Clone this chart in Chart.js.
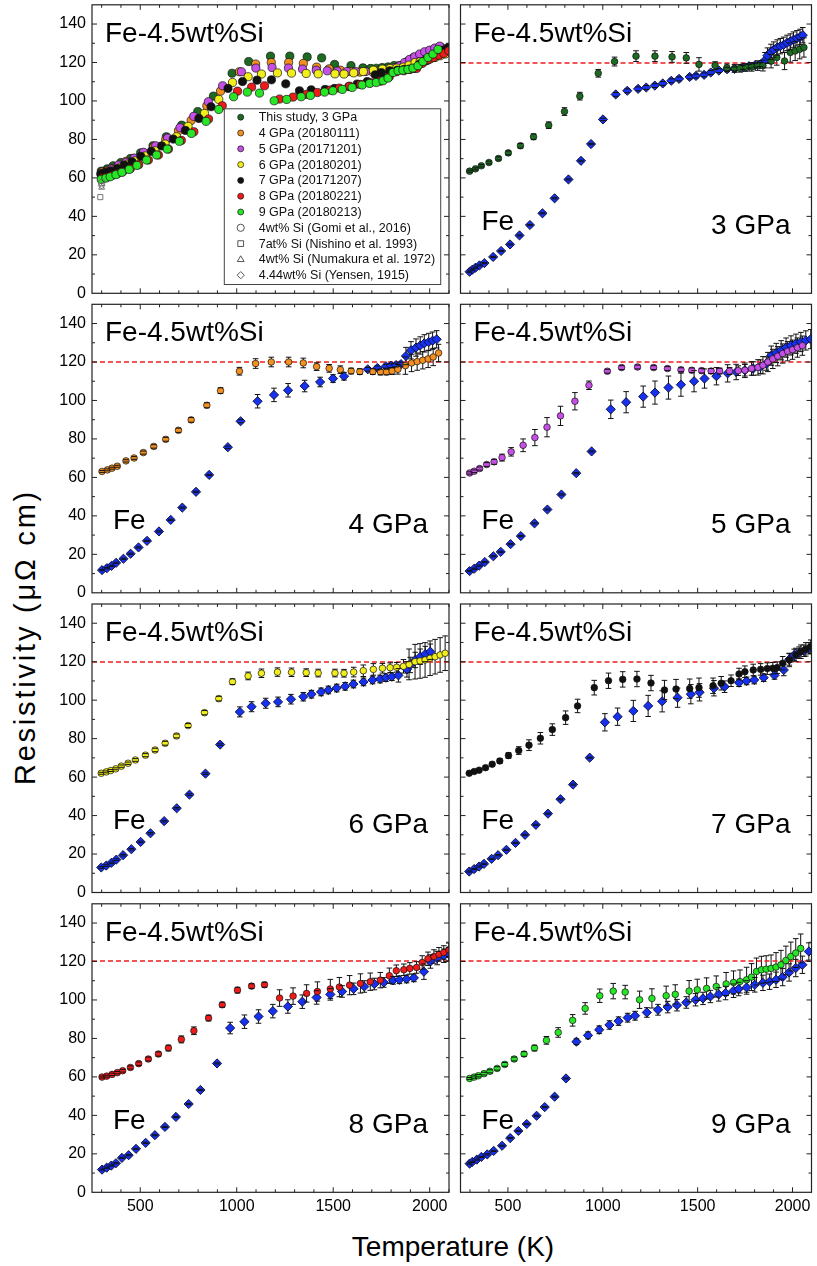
<!DOCTYPE html>
<html lang="en">
<head>
<meta charset="UTF-8">
<title>Resistivity of Fe-4.5wt%Si</title>
<script src="https://cdn.jsdelivr.net/npm/chart.js"></script>
<style>
  body { margin: 0; background: #fff; }
  #fig { position: relative; width: 817px; height: 1266px; font-family: Arial, "Liberation Sans", sans-serif; overflow: hidden; }
  #fig canvas { position: absolute; }
  .axis-title { position: absolute; font-size: 28px; line-height: 28px; height: 28px; width: 400px; text-align: center; color: #000; white-space: nowrap; }
  #ytitle { left: -174.7px; top: 622.5px; transform: rotate(-90deg); font-size: 29px; letter-spacing: 2.8px; }
  #xtitle { left: 253px; top: 1233px; }
</style>
</head>
<body>
<div id="fig">
  <div class="axis-title" id="ytitle">Resistivity (μΩ cm)</div>
  <div class="axis-title" id="xtitle">Temperature (K)</div>
</div>
<script>
// axes
const xMin = 250, xMax = 2100;
const yMin = 0, yMax = 150;
const xTicks = [500, 1000, 1500, 2000];
const yTicks = [0, 20, 40, 60, 80, 100, 120, 140];
const refLevel = 120;

// Fe-4.5wt%Si, this study (T in K, rho in uOhm cm, err = half error bar)
const si3T = [298,329,360,400,450,502,566,635,715,798,879,976,1062,1175,1275,1365,1440,1507,1592,1654,1694,1723,1754,1785,1816,1844,1887,1917,1958,1988,2014,2038,2060];
const si3R = [63.5,64.7,66.3,68.0,70.1,73.0,76.7,81.4,87.4,94.5,102.5,114.4,120.5,123.3,123.3,122.9,122.4,119.0,118.4,117.2,116.9,117.0,117.4,117.7,118.4,118.4,120.7,122.6,120.8,125.2,126.0,126.9,127.8];
const si3E = [0.5,0.5,0.6,0.7,0.8,1.0,1.2,1.5,1.7,2.0,2.0,2.0,2.3,2.8,2.8,2.8,2.8,3.5,2.0,2.0,2.0,2.0,2.0,2.2,2.5,2.8,3.5,4.0,4.5,5.0,5.0,5.0,5.0];

const si4T = [302,330,354,381,426,468,516,570,632,698,764,845,916,1014,1098,1179,1269,1345,1414,1479,1537,1593,1638,1705,1745,1776,1805,1835,1874,1906,1935,1964,1992,2018,2046];
const si4R = [63.1,63.9,64.8,65.8,68.6,70.1,72.9,76.1,79.8,84.5,89.9,97.5,105.1,115.2,119.2,120.0,120.0,119.5,117.6,116.7,116.0,115.3,115.0,115.0,114.8,114.8,115.3,116.2,118.1,119.5,120.2,120.9,121.6,122.6,124.7];
const si4E = [0.5,0.5,0.5,0.5,0.6,0.7,0.8,0.9,1.0,1.1,1.2,1.3,1.5,2.0,2.5,2.5,2.5,2.5,2.0,2.0,2.0,1.5,1.5,1.5,1.5,1.5,1.8,2.5,4.5,4.5,4.5,4.5,4.5,4.5,4.5];

const si5T = [298,322,351,388,427,469,517,580,642,706,777,853,927,1024,1099,1183,1268,1341,1412,1469,1521,1571,1616,1668,1714,1749,1784,1818,1844,1870,1896,1922,1948,1974,2000,2026,2052];
const si5R = [62.3,63.2,64.6,66.7,68.1,70.3,73.3,76.7,80.7,86.1,92.0,99.6,107.9,115.2,117.1,117.4,117.1,116.6,116.0,115.7,115.5,115.3,115.3,115.3,115.5,115.7,116.6,117.2,118.3,120.0,121.6,123.0,124.4,125.6,126.4,127.5,128.5];
const si5E = [0.6,0.7,0.8,1.0,1.3,1.8,2.2,3.3,4.2,5.0,5.0,4.5,2.2,1.0,1.0,1.0,1.0,1.0,1.0,1.2,1.2,1.3,1.5,1.8,2.5,3.0,3.5,4.0,4.5,5.0,5.0,5.0,5.0,5.0,5.0,5.0,5.0];

const si6T = [298,324,347,373,402,437,475,527,577,629,688,748,833,907,978,1059,1128,1211,1284,1360,1422,1509,1556,1606,1656,1708,1755,1795,1829,1864,1893,1924,1950,1976,2002,2028,2054,2080];
const si6R = [62.0,62.7,63.4,64.3,65.7,67.2,68.9,71.4,74.1,77.6,81.4,86.8,93.5,100.8,109.6,112.6,114.0,114.6,114.5,114.3,114.1,114.1,114.0,114.6,115.3,116.0,116.6,116.9,117.1,117.6,118.6,120.0,120.4,120.9,121.8,122.6,123.5,124.4];
const si6E = [0.5,0.5,0.5,0.5,0.6,0.6,0.7,0.8,0.9,1.0,1.0,1.0,1.1,1.2,1.5,2.0,2.2,2.2,2.2,2.0,2.0,2.0,2.0,2.5,3.0,3.0,2.5,2.5,2.5,3.5,8.0,9.0,9.0,9.0,9.0,9.0,9.0,9.0];

const si7T = [296,322,348,382,417,457,503,557,611,671,734,804,867,955,1030,1105,1180,1254,1325,1386,1458,1507,1581,1624,1676,1718,1749,1793,1832,1867,1896,1919,1948,1983,2018,2044,2070,2096];
const si7R = [62.0,62.9,63.6,64.9,66.7,68.4,71.2,73.8,76.6,80.2,84.7,90.9,97.0,106.5,110.1,110.8,111.0,108.9,105.3,105.8,106.0,106.5,107.5,108.8,110.1,113.6,114.8,115.7,116.0,116.4,116.6,116.9,119.2,120.9,123.5,125.2,126.4,127.8];
const si7E = [0.5,0.6,0.7,0.8,1.0,1.2,1.5,2.0,2.8,3.0,3.0,3.5,3.5,3.8,4.0,4.0,4.0,4.0,5.0,5.0,5.0,5.0,4.0,3.5,3.0,3.0,3.0,3.0,3.0,3.0,3.0,3.0,3.5,3.5,3.5,3.5,3.5,3.5];

const si8T = [302,326,354,381,409,449,492,542,594,646,713,778,854,925,1004,1077,1144,1222,1292,1362,1418,1485,1532,1585,1641,1692,1744,1791,1827,1866,1897,1932,1961,1991,2022,2048,2073,2099];
const si8R = [59.9,60.4,61.3,62.2,63.2,64.9,66.9,69.3,71.9,75.0,79.5,84.0,90.6,97.5,105.1,107.2,107.9,101.0,102.0,103.4,104.4,105.7,106.7,107.7,108.6,109.5,110.3,112.6,115.2,115.7,116.4,116.9,119.5,121.4,122.6,123.8,124.7,126.1];
const si8E = [0.5,0.5,0.6,0.6,0.7,0.8,0.9,1.0,1.1,1.5,1.8,2.0,1.5,1.3,1.5,1.2,1.3,4.3,4.3,4.5,5.0,5.0,5.0,5.0,5.0,4.5,4.0,4.0,3.0,3.0,3.0,3.0,3.5,3.5,3.5,3.5,3.5,3.5];

const si9T = [298,322,344,374,405,443,483,533,585,640,703,765,841,907,984,1055,1118,1194,1259,1334,1382,1455,1498,1547,1598,1650,1689,1723,1758,1784,1810,1836,1861,1887,1913,1939,1965,1991,2017,2043];
const si9R = [59.2,59.9,60.6,61.7,62.9,64.4,66.5,69.3,71.9,75.0,79.0,83.1,89.4,95.6,102.2,104.6,104.1,100.1,100.8,102.2,102.9,104.6,105.3,106.0,107.0,108.3,109.1,109.6,110.5,111.9,114.8,115.7,116.0,116.4,117.1,118.3,120.5,122.6,124.4,126.8];
const si9E = [0.5,0.6,0.6,0.7,0.8,0.9,1.0,1.0,1.2,1.5,2.0,2.5,3.0,3.0,3.5,4.0,3.5,4.5,5.0,5.0,5.0,5.5,5.5,5.5,5.5,6.0,6.0,6.0,6.5,7.0,7.0,7.0,7.0,7.0,7.5,7.5,7.5,7.5,7.5,7.5];

// pure Fe at the same pressures
const fe3T = [298,313,329,350,376,422,464,511,561,616,682,746,819,885,938,1001,1068,1129,1186,1229,1274,1316,1361,1402,1458,1491,1534,1569,1612,1655,1695,1737,1771,1803,1829,1855,1868,1886,1901,1919,1936,1953,1971,1988,2005,2023,2040,2054];
const fe3R = [11.2,12.3,13.3,14.5,15.7,18.9,22.0,25.4,30.1,35.5,41.6,49.4,59.2,68.9,77.6,90.4,103.4,105.3,106.3,107.0,108.0,109.1,110.5,111.5,112.5,113.0,113.6,114.8,115.8,116.5,116.7,117.4,118.1,118.6,118.9,121.2,123.6,125.5,126.7,127.8,128.5,129.2,130.2,130.9,131.9,132.6,133.3,134.2];
const fe3E = [0.3,0.3,0.3,0.3,0.3,0.3,0.3,0.3,0.3,0.3,0.3,0.3,0.3,0.3,0.3,0.6,1.0,1.0,1.0,1.0,1.0,1.0,1.0,1.0,1.0,1.0,1.0,1.0,1.0,1.0,1.0,1.0,1.0,1.0,1.0,4.0,4.0,4.0,4.0,4.0,4.0,4.0,4.0,4.0,4.0,4.0,4.0,4.0];

const fe4T = [302,327,351,375,413,450,491,535,597,658,718,789,857,954,1020,1108,1193,1266,1352,1432,1499,1556,1679,1729,1773,1799,1825,1851,1877,1903,1929,1951,1972,1995,2015,2036];
const fe4R = [11.8,12.8,14.0,15.6,17.7,20.3,23.6,27.0,31.9,37.9,44.3,52.5,61.3,75.7,89.2,99.6,102.9,105.3,107.5,109.6,111.4,112.6,116.2,116.9,117.8,118.1,118.4,118.9,123.1,126.1,127.5,128.6,129.7,130.4,131.1,131.8];
const fe4E = [0.3,0.3,0.3,0.3,0.3,0.3,0.3,0.3,0.3,0.3,0.3,0.3,0.3,0.6,0.8,3.5,3.5,3.5,3.0,2.5,2.0,2.0,1.0,1.0,1.0,1.0,1.0,1.0,4.5,4.5,4.5,4.5,4.5,4.5,4.5,4.5];

const fe5T = [298,322,348,378,423,462,514,568,640,708,782,860,941,1042,1123,1213,1275,1346,1412,1481,1536,1599,1658,1703,1749,1793,1831,1862,1888,1914,1940,1966,1992,2018,2044,2070,2096];
const fe5R = [11.3,12.5,14.1,16.0,19.0,21.3,25.3,29.5,36.1,43.3,51.1,62.2,73.5,95.4,99.1,102.0,104.1,106.7,108.2,110.0,111.4,112.6,114.1,114.8,115.7,116.6,117.6,119.2,123.3,124.7,126.1,127.5,128.6,129.5,130.4,131.2,131.9];
const fe5E = [0.3,0.3,0.3,0.3,0.3,0.3,0.3,0.3,0.3,0.3,0.3,0.3,0.3,4.8,5.5,5.5,6.0,6.0,6.0,5.5,5.0,4.5,4.5,4.0,3.8,3.5,3.5,3.5,5.0,5.0,5.0,5.0,5.0,5.0,5.0,5.0,5.0];

const fe6T = [298,324,350,376,411,454,502,553,624,689,755,838,914,1016,1077,1150,1214,1281,1345,1387,1437,1475,1518,1562,1605,1657,1704,1743,1773,1804,1838,1882,1899,1925,1951,1977,2003];
const fe6R = [13.0,14.0,15.4,17.1,19.4,22.5,26.3,30.8,37.1,43.8,50.9,61.8,76.9,93.9,96.6,98.4,99.1,100.5,101.8,103.1,104.3,105.3,106.3,107.2,108.4,109.5,110.5,111.0,111.7,112.2,112.9,116.0,118.3,120.9,122.6,124.0,125.2];
const fe6E = [0.4,0.4,0.4,0.4,0.4,0.4,0.4,0.4,0.4,0.4,0.4,0.4,0.4,2.6,2.6,2.6,2.5,2.5,2.2,2.0,2.0,2.0,2.0,2.0,2.0,2.0,2.0,2.0,2.0,2.0,3.5,4.0,4.0,4.0,4.0,4.0,4.0];

const fe7T = [296,322,348,374,414,448,492,540,590,647,711,777,843,931,1011,1078,1161,1239,1313,1394,1464,1510,1586,1642,1718,1758,1798,1848,1905,1954,1983,2009,2035,2061,2087];
const fe7R = [10.9,12.2,13.5,14.9,17.5,19.4,22.2,25.8,30.0,35.2,41.0,48.5,56.1,70.1,88.5,91.4,94.4,97.0,99.4,101.3,103.1,104.1,106.2,107.0,109.1,110.0,110.5,111.7,112.9,115.7,121.2,123.5,124.7,125.7,127.0];
const fe7E = [0.3,0.3,0.3,0.3,0.3,0.3,0.3,0.3,0.3,0.3,0.3,0.3,0.3,0.3,4.5,4.5,5.5,5.5,5.5,5.0,5.0,4.5,4.0,3.0,2.0,2.0,2.0,2.0,2.0,3.0,3.0,3.0,3.0,3.0,3.0];

const fe8T = [302,326,350,374,405,440,478,528,576,628,685,751,812,898,966,1040,1113,1187,1265,1340,1414,1485,1546,1606,1661,1713,1762,1810,1843,1880,1918,1970,2004,2039,2073,2099];
const fe8R = [11.8,12.8,13.9,15.1,17.9,19.3,22.6,25.7,29.7,34.0,39.2,45.9,53.2,67.0,85.4,88.7,91.4,94.2,96.6,99.1,101.3,102.9,104.4,105.8,107.0,108.3,109.1,110.2,110.5,110.9,111.5,114.7,120.0,121.8,123.0,123.8];
const fe8E = [0.3,0.3,0.3,0.3,0.3,0.3,0.3,0.3,0.3,0.3,0.3,0.3,0.3,0.3,3.0,3.5,3.5,3.5,3.5,3.5,3.5,3.0,3.0,3.0,3.0,3.0,2.5,2.0,2.0,2.0,2.0,4.0,3.5,3.5,3.5,3.5];

const fe9T = [298,312,336,360,391,425,469,512,555,599,651,694,746,806,861,922,981,1035,1083,1131,1170,1232,1291,1342,1391,1440,1489,1528,1567,1611,1647,1689,1716,1758,1801,1844,1879,1913,1948,1982,2017,2052,2086];
const fe9R = [14.9,15.8,17.0,18.4,19.7,21.5,24.2,28.2,31.9,35.5,39.8,44.3,49.7,59.2,78.3,81.6,84.5,87.0,89.0,90.8,91.8,93.5,94.9,96.3,97.3,98.7,100.1,100.8,101.8,102.9,103.6,104.8,105.7,106.5,107.9,108.9,109.5,110.5,111.9,114.3,116.6,118.3,125.2];
const fe9E = [0.3,0.3,0.3,0.3,0.3,0.3,0.3,0.3,0.3,0.3,0.3,0.3,0.3,0.3,1.5,1.8,2.0,2.2,2.2,2.3,2.3,2.5,2.8,3.0,3.0,3.0,3.2,3.2,3.2,3.5,3.5,3.5,3.5,3.5,3.8,4.0,4.0,4.0,4.5,4.5,4.5,4.5,4.5];

// literature values near room temperature
const litT = [300, 293, 300, 300];
const litR = [57.5, 50.0, 55.0, 56.0];

const pressures = ['3 GPa', '4 GPa', '5 GPa', '6 GPa', '7 GPa', '8 GPa', '9 GPa'];
const siLegend = ['This study, 3 GPa', '4 GPa (20180111)', '5 GPa (20171201)', '6 GPa (20180201)', '7 GPa (20171207)', '8 GPa (20180221)', '9 GPa (20180213)'];
const litLegend = ['4wt% Si (Gomi et al., 2016)', '7at% Si (Nishino et al. 1993)', '4wt% Si (Numakura et al. 1972)', '4.44wt% Si (Yensen, 1915)'];
const siColors = ['#1d6b22', '#f39020', '#c64fe6', '#f2ee1c', '#111111', '#ee1b1b', '#27e527'];
const litStyles = ['circle', 'rect', 'triangle', 'rectRot'];
const feColor = '#1632ee';

const siT = [si3T, si4T, si5T, si6T, si7T, si8T, si9T];
const siR = [si3R, si4R, si5R, si6R, si7R, si8R, si9R];
const siE = [si3E, si4E, si5E, si6E, si7E, si8E, si9E];
const feT = [fe3T, fe4T, fe5T, fe6T, fe7T, fe8T, fe9T];
const feR = [fe3R, fe4R, fe5R, fe6R, fe7R, fe8R, fe9R];
const feE = [fe3E, fe4E, fe5E, fe6E, fe7E, fe8E, fe9E];

const FONT = 'Arial, "Liberation Sans", sans-serif';

// frame geometry (page pixels)
const colX = [[92, 449], [459.5, 816]];
const rowBottom = [293.3, 592.8, 892.5, 1192.3];
const plotH = 288.5;

const pts = (xs, ys) => xs.map((x, i) => ({ x: x, y: ys[i] }));

function marker(ctx, style, x, y, r) {
  ctx.beginPath();
  if (style === 'circle') ctx.arc(x, y, r, 0, Math.PI * 2);
  else if (style === 'rect') { const s = r * 0.8; ctx.rect(x - s, y - s, 2 * s, 2 * s); }
  else if (style === 'triangle') { ctx.moveTo(x, y - r); ctx.lineTo(x + r * 0.95, y + r * 0.6); ctx.lineTo(x - r * 0.95, y + r * 0.6); ctx.closePath(); }
  else { ctx.moveTo(x, y - r); ctx.lineTo(x + r, y); ctx.lineTo(x, y + r); ctx.lineTo(x - r, y); ctx.closePath(); }
}

function drawErr(chart, part) {
  const ctx = chart.ctx, ys = chart.scales.y, a = chart.chartArea;
  ctx.save();
  ctx.beginPath();
  ctx.rect(a.left, a.top, a.right - a.left, a.bottom - a.top);
  ctx.clip();
  ctx.strokeStyle = '#111';
  ctx.lineWidth = 1;
  chart.data.datasets.forEach((ds, i) => {
    if (!ds.err) return;
    chart.getDatasetMeta(i).data.forEach((pt, j) => {
      const e = ds.err[j] || 0;
      if (!e) return;
      const v = ds.data[j].y;
      const y0 = ys.getPixelForValue(v - e), y1 = ys.getPixelForValue(v + e);
      ctx.beginPath();
      if (part === 'stem') {
        ctx.moveTo(pt.x, y0); ctx.lineTo(pt.x, y1);
      } else {
        ctx.moveTo(pt.x - 2.8, y0); ctx.lineTo(pt.x + 2.8, y0);
        ctx.moveTo(pt.x - 2.8, y1); ctx.lineTo(pt.x + 2.8, y1);
      }
      ctx.stroke();
    });
  });
  ctx.restore();
}

const errorBars = {
  id: 'errorBars',
  beforeDatasetsDraw(chart) { drawErr(chart, 'stem'); },
  afterDatasetsDraw(chart) { drawErr(chart, 'caps'); }
};

const deco = {
  id: 'deco',
  beforeDatasetsDraw(chart, args, o) {
    if (!o.dash) return;
    const ctx = chart.ctx, a = chart.chartArea;
    const y = Math.round(chart.scales.y.getPixelForValue(refLevel));
    ctx.save();
    ctx.strokeStyle = '#f01e1e';
    ctx.lineWidth = 1.5;
    ctx.setLineDash([5, 3]);
    ctx.beginPath(); ctx.moveTo(a.left, y); ctx.lineTo(a.right, y); ctx.stroke();
    ctx.restore();
  },
  afterDraw(chart, args, o) {
    const ctx = chart.ctx, a = chart.chartArea, xs = chart.scales.x, ys = chart.scales.y;
    ctx.save();
    ctx.strokeStyle = '#222';
    ctx.lineWidth = 1.2;
    ctx.strokeRect(a.left, a.top, a.right - a.left, a.bottom - a.top);
    ctx.lineWidth = 1;
    ctx.beginPath();
    for (let v = 300; v <= xMax; v += 100) {
      const len = v % 500 === 0 ? 5 : 3, px = xs.getPixelForValue(v);
      ctx.moveTo(px, a.bottom); ctx.lineTo(px, a.bottom - len);
      ctx.moveTo(px, a.top); ctx.lineTo(px, a.top + len);
    }
    for (let v = 10; v < yMax; v += 10) {
      const len = v % 20 === 0 ? 5 : 3, py = ys.getPixelForValue(v);
      ctx.moveTo(a.left, py); ctx.lineTo(a.left + len, py);
      ctx.moveTo(a.right, py); ctx.lineTo(a.right - len, py);
    }
    ctx.stroke();

    ctx.fillStyle = '#000';
    ctx.font = '28px ' + FONT;
    ctx.textBaseline = 'alphabetic';
    ctx.textAlign = 'left';
    ctx.fillText('Fe-4.5wt%Si', a.left + 13, a.top + 37);
    if (o.gpa) {
      ctx.fillText('Fe', a.left + 21, a.top + 225);
      ctx.textAlign = 'right';
      ctx.fillText(o.gpa, a.right - 21, a.top + 229);
    }

    if (o.legend) {
      const bx = a.left + 132.3, by = a.top + 104, bw = 216.4, bh = 175.7;
      ctx.fillStyle = '#fff';
      ctx.fillRect(bx, by, bw, bh);
      ctx.strokeStyle = '#444';
      ctx.lineWidth = 1;
      ctx.strokeRect(bx, by, bw, bh);
      ctx.font = '12.5px ' + FONT;
      ctx.textAlign = 'left';
      ctx.textBaseline = 'middle';
      const names = siLegend.concat(litLegend);
      names.forEach((name, k) => {
        const cy = by + 8.4 + k * 15.8, mx = bx + 16.4;
        if (k < siLegend.length) {
          ctx.fillStyle = siColors[k];
          ctx.strokeStyle = '#111';
          ctx.lineWidth = 0.7;
          marker(ctx, 'circle', mx, cy, 3);
          ctx.fill(); ctx.stroke();
        } else {
          ctx.strokeStyle = '#555';
          ctx.lineWidth = 1;
          marker(ctx, litStyles[k - siLegend.length], mx, cy, 3.6);
          ctx.stroke();
        }
        ctx.fillStyle = '#111';
        ctx.fillText(name, bx + 34.4, cy + 0.5);
      });
    }
    ctx.restore();
  }
};

// panel order: overview, then 3..9 GPa left to right, top to bottom
const panels = [{ row: 0, col: 0, p: -1 }];
for (let k = 0; k < pressures.length; k++) {
  const n = k + 1;
  panels.push({ row: Math.floor(n / 2), col: n % 2, p: k });
}

const fig = document.getElementById('fig');

panels.forEach(pn => {
  const fx0 = colX[pn.col][0], fx1 = colX[pn.col][1];
  const fy1 = rowBottom[pn.row], fy0 = fy1 - plotH;
  const L = pn.col === 0 ? 0 : 455, W = pn.col === 0 ? 455 : 362;
  const T = Math.floor(fy0) - 10;
  const H = Math.ceil(fy1) + (pn.row === 3 ? 34 : 10) - T;

  const cv = document.createElement('canvas');
  cv.width = W; cv.height = H;
  cv.style.left = L + 'px'; cv.style.top = T + 'px';
  cv.style.width = W + 'px'; cv.style.height = H + 'px';
  fig.appendChild(cv);

  let datasets = [];
  if (pn.p < 0) {
    litStyles.forEach((st, k) => datasets.push({
      data: [{ x: litT[k], y: litR[k] }],
      pointStyle: st, pointRadius: st === 'rect' ? 3.6 : 3.4,
      backgroundColor: 'rgba(0,0,0,0)', borderColor: '#666', pointBorderWidth: 0.9, order: -1
    }));
    siT.forEach((xs, k) => datasets.push({
      data: pts(xs, siR[k]),
      pointStyle: 'circle', pointRadius: 4.1,
      backgroundColor: siColors[k], borderColor: '#111', pointBorderWidth: 0.7, order: 6 - k
    }));
  } else {
    const k = pn.p;
    datasets = [
      { data: pts(siT[k], siR[k]), err: siE[k], pointStyle: 'circle', pointRadius: 3.3,
        backgroundColor: siColors[k], borderColor: '#111', pointBorderWidth: 0.7 },
      { data: pts(feT[k], feR[k]), err: feE[k], pointStyle: 'rectRot', pointRadius: 4.6,
        backgroundColor: feColor, borderColor: '#0a0a30', pointBorderWidth: 0.9 }
    ];
  }

  new Chart(cv, {
    type: 'scatter',
    data: { datasets: datasets },
    options: {
      responsive: false,
      animation: false,
      devicePixelRatio: 1,
      events: [],
      layout: { padding: { left: 0, top: fy0 - T, right: L + W - fx1, bottom: 0 } },
      plugins: {
        legend: { display: false },
        tooltip: { enabled: false },
        deco: { gpa: pn.p >= 0 ? pressures[pn.p] : null, dash: pn.p >= 0, legend: pn.p < 0 }
      },
      scales: {
        x: {
          type: 'linear', min: xMin, max: xMax,
          grid: { display: false, drawTicks: false },
          border: { display: false },
          ticks: { display: pn.row === 3, color: '#000', font: { family: FONT, size: 16 }, padding: 5,
                   autoSkip: false, maxRotation: 0, callback: v => String(v) },
          afterBuildTicks: s => { s.ticks = xTicks.map(v => ({ value: v })); },
          afterFit: s => { s.height = T + H - fy1; s.paddingLeft = 0; s.paddingRight = 0; }
        },
        y: {
          type: 'linear', min: yMin, max: yMax,
          grid: { display: false, drawTicks: false },
          border: { display: false },
          ticks: { display: pn.col === 0, color: '#000', font: { family: FONT, size: 16 }, padding: 6,
                   autoSkip: false, callback: v => String(v) },
          afterBuildTicks: s => { s.ticks = yTicks.map(v => ({ value: v })); },
          afterFit: s => { s.width = fx0 - L; s.paddingTop = 0; s.paddingBottom = 0; }
        }
      }
    },
    plugins: [errorBars, deco]
  });
});
</script>
</body>
</html>
